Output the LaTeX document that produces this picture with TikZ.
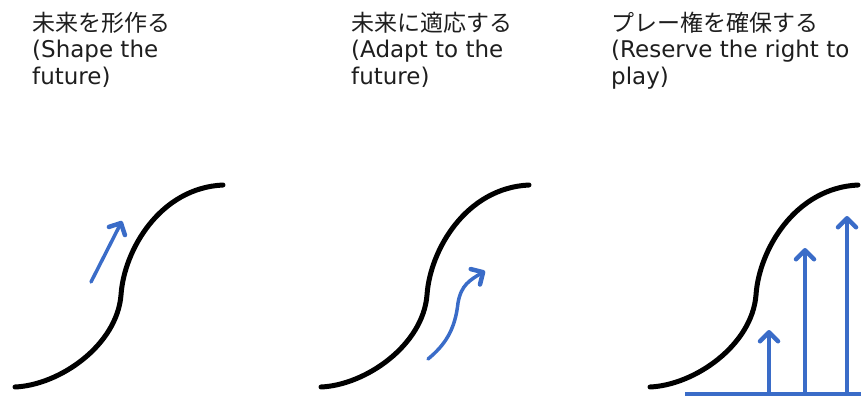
\documentclass[tikz,border=0pt]{standalone}
\usepackage{fontspec}
\setmainfont{DejaVu Sans}
\newfontfamily\jp{Noto Sans CJK JP}
\usetikzlibrary{arrows.meta}
\definecolor{arrblue}{RGB}{58,108,200}
\definecolor{txtgray}{RGB}{30,30,30}
\tikzset{
  scurve/.style={line width=5pt,black,line cap=round},
  bluearrow/.style={line width=3.5pt,arrblue,line cap=round,-{Straight Barb[length=9pt,width=18pt,line width=4.5pt,round]}},
  blueline/.style={line width=3.5pt,arrblue},
  lbl/.style={anchor=base west,inner sep=0pt,font=\fontsize{23}{26}\selectfont,text=txtgray}
}
\begin{document}
\begin{tikzpicture}[x=1pt,y=-1pt]
\useasboundingbox (0,0) rectangle (861,396);
% labels
\node[lbl] (a1) at (32,32) {\jp 未来を形作る};
\node[lbl] (a2) at (32,58) {(Shape the};
\node[lbl] (a3) at (32,84) {future)};
\node[lbl] (b1) at (351,32) {\jp 未来に適応する};
\node[lbl] (b2) at (351,58) {(Adapt to the};
\node[lbl] (b3) at (351,84) {future)};
\node[lbl] (c1) at (611,32) {\jp プレー権を確保する};
\node[lbl] (c2) at (611,58) {(Reserve the right to};
\node[lbl] (c3) at (611,84) {play)};
% S-curves
\foreach \dx in {0,306,635}{
  \draw[scurve,shift={(\dx,0)}] (15,387) .. controls (60,385) and (117,345) .. (121,295)
     .. controls (124,250) and (160,188) .. (223,185);
}
% panel 1 arrow
\coordinate (p1s) at (91,282);
\coordinate (p1e) at (122,221);
\draw[bluearrow] (p1s) -- (p1e);
% panel 2 arrow
\coordinate (p2s) at (428,359);
\coordinate (p2m) at (458,303);
\coordinate (p2e) at (485,271);
\draw[bluearrow] (p2s) .. controls (445,345) and (455,330) .. (p2m)
   .. controls (461,285) and (470,280) .. (p2e);
% panel 3 arrows
\coordinate (b0) at (685,394);
\coordinate (b9) at (861,394);
\draw[blueline] (b0) -- (b9);
\coordinate (q1) at (769,394);
\coordinate (q1t) at (769,330);
\coordinate (q2) at (805,394);
\coordinate (q2t) at (805,248);
\coordinate (q3) at (847,394);
\coordinate (q3t) at (847,216);
\draw[bluearrow] (q1) -- (q1t);
\draw[bluearrow] (q2) -- (q2t);
\draw[bluearrow] (q3) -- (q3t);
\end{tikzpicture}
\end{document}
